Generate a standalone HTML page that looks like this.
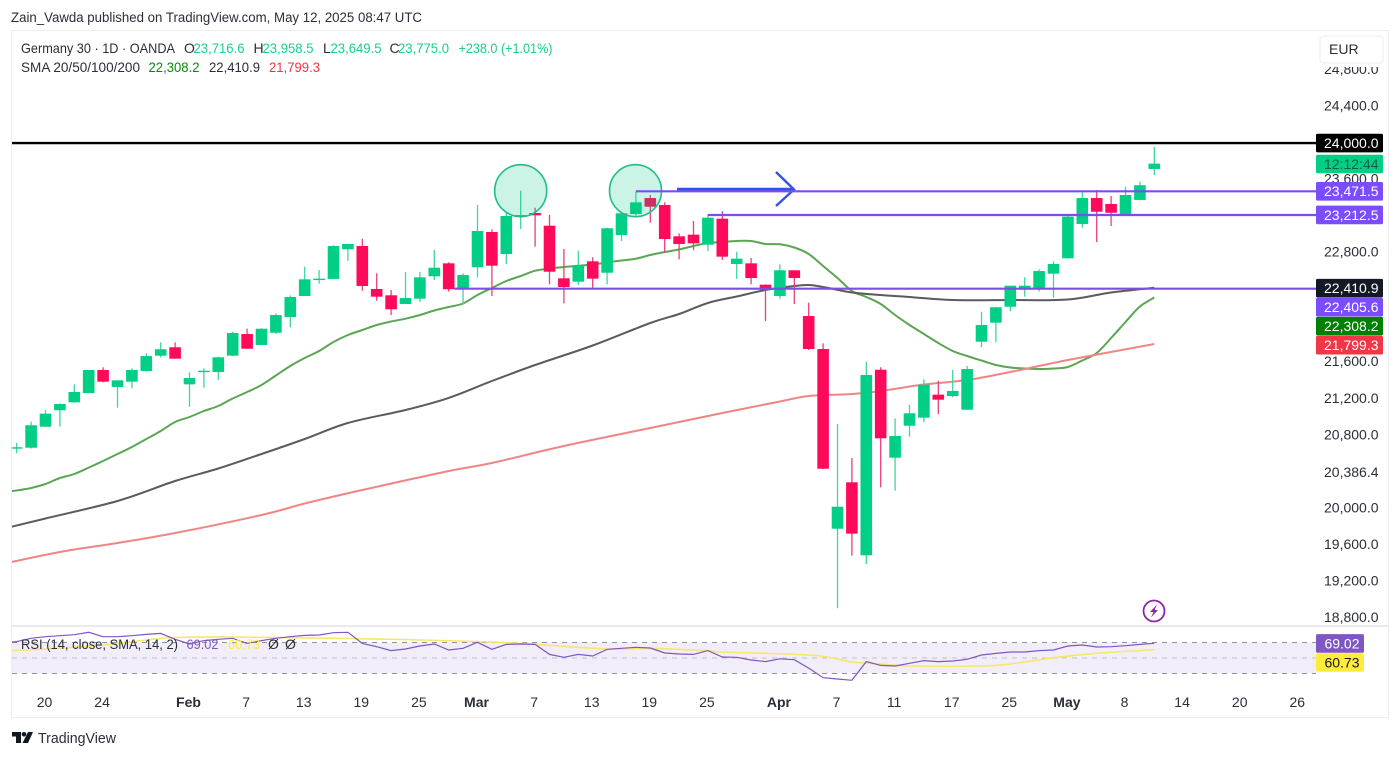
<!DOCTYPE html>
<html lang="en">
<head>
<meta charset="utf-8">
<title>Germany 30 daily chart</title>
<style>
  html, body { margin: 0; padding: 0; background: #fff; width: 1400px; height: 757px; overflow: hidden; }
  svg { display: block; font-family: "Liberation Sans", "DejaVu Sans", sans-serif; }
  text { fill: #2a2e39; }
</style>
</head>
<body>
<svg id="chart" xmlns="http://www.w3.org/2000/svg" width="1400" height="757" viewBox="0 0 1400 757">
  <defs>
    <clipPath id="main-clip"><rect x="12" y="31" width="1304" height="594"/></clipPath>
    <clipPath id="rsi-clip"><rect x="12" y="628" width="1304" height="62"/></clipPath>
  </defs>
  <rect x="0" y="0" width="1400" height="757" fill="#ffffff"/>
  <text x="11" y="22" font-size="13.5" textLength="411" lengthAdjust="spacingAndGlyphs">Zain_Vawda published on TradingView.com, May 12, 2025 08:47 UTC</text>
  <rect x="11.5" y="30.5" width="1377" height="687" fill="#ffffff" stroke="#eceef2" stroke-width="1"/>
  <line x1="12" y1="626" x2="1388" y2="626" stroke="#e9eaed" stroke-width="2"/>

  <g id="main-under" clip-path="url(#main-clip)"></g>
  <g id="main-candles" clip-path="url(#main-clip)"></g>

  <g clip-path="url(#main-clip)">
    <circle cx="520.7" cy="190.7" r="26" fill="rgba(0,200,130,0.2)" stroke="#1fbd8b" stroke-width="1.6"/>
    <circle cx="635.5" cy="190.7" r="26" fill="rgba(0,200,130,0.2)" stroke="#1fbd8b" stroke-width="1.6"/>
    <line x1="677" y1="189.5" x2="793" y2="189.5" stroke="#3451e8" stroke-width="3.4"/>
    <polyline points="776,172 794,189.5 776,206" fill="none" stroke="#3451e8" stroke-width="2.4"/>
  </g>
  <g id="levels" clip-path="url(#main-clip)"></g>

  <g>
    <circle cx="1154" cy="611" r="10.5" fill="#ffffff" stroke="#8e24aa" stroke-width="1.8"/>
    <polygon points="1157,604.5 1150,612 1153.5,612 1151,617.5 1158,610 1154.5,610" fill="#8e24aa"/>
  </g>

  <g id="rsi-pane"></g>

  <text x="21" y="649" font-size="14" textLength="157" lengthAdjust="spacingAndGlyphs">RSI (14, close, SMA, 14, 2)</text>
  <text x="186.5" y="649" font-size="14" textLength="32" lengthAdjust="spacingAndGlyphs" style="fill:#7e57c2">69.02</text>
  <text x="228" y="649" font-size="14" textLength="32" lengthAdjust="spacingAndGlyphs" style="fill:#ffeb3b">60.73</text>
  <text x="268" y="649" font-size="14">Ø</text>
  <text x="285" y="649" font-size="14">Ø</text>

  <g font-size="14">
    <text x="21" y="53" textLength="154" lengthAdjust="spacingAndGlyphs">Germany 30 · 1D · OANDA</text>
    <text x="184" y="53">O</text>
    <text x="193.5" y="53" textLength="51" lengthAdjust="spacingAndGlyphs" style="fill:#19cf90">23,716.6</text>
    <text x="253.5" y="53">H</text>
    <text x="262.5" y="53" textLength="51" lengthAdjust="spacingAndGlyphs" style="fill:#19cf90">23,958.5</text>
    <text x="323" y="53">L</text>
    <text x="330.5" y="53" textLength="51" lengthAdjust="spacingAndGlyphs" style="fill:#19cf90">23,649.5</text>
    <text x="389.5" y="53">C</text>
    <text x="398" y="53" textLength="51" lengthAdjust="spacingAndGlyphs" style="fill:#19cf90">23,775.0</text>
    <text x="458.5" y="53" textLength="94" lengthAdjust="spacingAndGlyphs" style="fill:#19cf90">+238.0 (+1.01%)</text>
    <text x="21" y="72" textLength="119" lengthAdjust="spacingAndGlyphs">SMA 20/50/100/200</text>
    <text x="148.5" y="72" textLength="51" lengthAdjust="spacingAndGlyphs" style="fill:#0a8a0a">22,308.2</text>
    <text x="209" y="72" textLength="51" lengthAdjust="spacingAndGlyphs">22,410.9</text>
    <text x="269" y="72" textLength="51" lengthAdjust="spacingAndGlyphs" style="fill:#f23645">21,799.3</text>
  </g>

  <g id="price-axis"></g>
  <g id="time-axis"></g>

  <rect x="1316" y="33" width="71" height="34" fill="#ffffff"/>
  <g>
    <rect x="1320" y="36" width="63" height="27" rx="3" fill="#ffffff" stroke="#eceef2"/>
    <text x="1329" y="54" font-size="14">EUR</text>
  </g>

  <g>
    <path d="M12 732H21V743H16V736.5H12Z M28 732H33L28 743H22.5Z" fill="#131722"/>
    <circle cx="24" cy="734.3" r="2.3" fill="#131722"/>
    <text x="38" y="743" font-size="14.5" textLength="78" lengthAdjust="spacingAndGlyphs">TradingView</text>
  </g>
</svg>

<script>
// Candle values, one entry per daily bar
const opens = [
  20664,20664,20894,21074,21161,21263,21515,21329,21387,21504,
  21672,21764,21358,21496,21493,21672,21909,21789,21923,22095,
  22325,22508,22512,22837,22873,22402,22333,22238,22296,22541,
  22683,22410,22640,23026,22785,23194,23234,23095,22519,22482,
  22705,22580,22993,23223,23398,23322,22979,22997,22887,23172,
  22676,22683,22449,22325,22607,22106,21745,19777,20285,19486,
  21518,20555,20905,20993,21245,21230,21080,21825,22033,22208,
  22394,22405,22570,22738,23114,23398,23333,23209,23377,23716.6
];
const highs = [
  20719,20949,21077,21150,21358,21515,21545,21402,21534,21698,
  21818,21818,21490,21534,21661,21934,21967,21972,22136,22333,
  22646,22610,22881,22895,22950,22574,22391,22588,22588,22829,
  22694,22574,23322,23056,23248,23478,23292,23212,22840,22821,
  22749,23073,23231,23467,23431,23351,23012,23147,23220,23253,
  22810,22741,22453,22672,22607,22252,21807,20924,20551,21606,
  21545,20986,21135,21413,21398,21515,21559,22153,22208,22438,
  22530,22618,22705,23212,23467,23486,23420,23522,23577,23958.5
];
const lows = [
  20603,20655,20891,20894,21157,21260,21380,21102,21315,21496,
  21654,21639,21113,21321,21406,21668,21748,21789,21909,21983,
  22325,22460,22512,22709,22383,22274,22117,22238,22260,22501,
  22373,22238,22530,22325,22676,23059,22865,22453,22245,22446,
  22410,22453,22928,23187,23128,22799,22727,22826,22815,22720,
  22512,22453,22052,22296,22238,21734,20431,18906,19482,19391,
  20231,20193,20785,20946,21033,21216,21080,21764,21818,22158,
  22318,22373,22307,22734,23073,22917,23092,23205,23373,23649.5
];
const closes = [
  20669,20910,21037,21143,21274,21515,21387,21402,21515,21668,
  21742,21639,21427,21507,21654,21920,21748,21967,22117,22314,
  22508,22515,22873,22895,22435,22318,22180,22303,22530,22635,
  22399,22555,23037,22657,23201,23212,23209,22591,22424,22661,
  22515,23067,23231,23351,23303,22949,22895,22902,23183,22756,
  22734,22522,22391,22607,22522,21745,20434,20018,19723,21460,
  20767,20792,21041,21354,21190,21285,21526,22008,22202,22438,
  22438,22599,22676,23194,23398,23248,23237,23431,23538,23775
];

// Moving averages: SMA 20 has a value for each bar (first one is the bar before the chart's first bar)
const sma20Values = [
  20179,20196,20223,20267,20332,20376,20446,20519,20595,20672,20759,
  20847,20946,21000,21066,21121,21203,21274,21351,21455,21559,
  21646,21723,21822,21898,21953,22008,22046,22077,22117,22167,
  22205,22243,22336,22413,22490,22544,22602,22626,22643,22657,
  22670,22692,22714,22734,22774,22807,22835,22873,22906,22917,
  22928,22928,22895,22891,22856,22785,22654,22522,22380,22314,
  22238,22117,22008,21909,21811,21723,21668,21619,21570,21542,
  21531,21526,21531,21548,21619,21701,21865,22041,22210,22309
];
// SMA 50 / SMA 100 readings at sampled bars
const sma50Bars = [-1,2,7,11,14,17,20,23,27,30,33,36,40,44,46,48,50,52,54,55,56,58,60,62,65,69,73,76,79];
const sma50Values = [19774,19889,20081,20300,20436,20595,20759,20935,21077,21209,21395,21570,21783,22030,22128,22249,22320,22391,22435,22446,22424,22364,22336,22314,22281,22281,22287,22364,22415];
const sma100Bars = [-1,3,7,11,17,20,24,30,33,38,44,49,53,55,58,60,63,66,69,73,79];
const sma100Values = [19391,19522,19621,19730,19927,20053,20201,20409,20497,20683,20880,21044,21170,21230,21252,21285,21356,21405,21493,21624,21799.3];

// Horizontal levels: price and the bar they start from
const levelPrices = [23471.5, 23212.5, 22405.6];
const levelStartBars = [43, 48, 30.4];
const resistancePrice = 24000;

// RSI: one value for each bar (first one is the bar before the chart's first bar)
const rsiValues = [
  69.5,71.1,75.4,77.5,78.8,80.1,83.1,77.5,77.5,78.8,80.5,
  81.8,74.1,68.1,72.4,74.1,75.4,68.9,72.4,75.4,77.5,
  79.2,79.7,82.7,83.1,68.9,64.6,59.5,61.6,65.5,68.1,
  60.3,62.5,70.2,61.2,67.6,68.1,67.6,54.7,50.9,54.7,
  52.6,61.2,62.5,63.8,62.9,56.5,55.2,54.7,59.5,51.3,
  50.9,47.4,45.3,49,47.8,37,24.6,22.9,21.2,45.3,
  40.5,39.7,43.1,46.6,45.3,46.1,48.3,53.9,56,57.7,
  57.7,59.5,60.3,65.5,66.8,64.2,64.6,65.9,67.6,69.02
];
const rsiSmaBars = [-1,2,6,9,11,15,23,28,33,36,41,44,48,49,55,57,58,60,62,67,69,72,75,79];
const rsiSmaValues = [59,61.6,66.8,73.2,76.5,77.1,75.2,73.2,70.6,67.7,61.6,62.5,59.4,57.7,53.9,48.7,44.8,42.3,39.7,39.7,42.3,50.4,56.1,60.73];
const rsiBandValues = [70, 50, 30];

// Axis labels
const priceTicks = [24800,24400,23600,22800,21600,21200,20800,20386.4,20000,19600,19200,18800];
const timeTickBars = [2,6,12,16,20,24,28,32,36,40,44,48,53,57,61,65,69,73,77,81,85,89];
const timeTickLabels = ['20','24','Feb','7','13','19','25','Mar','7','13','19','25','Apr','7','11','17','25','May','8','14','20','26'];
const boldTimeLabels = ['Feb','Mar','Apr','May'];

// Price tags on the axis, highest first
const tagPrices = [24000, 23471.5, 23212.5, 22410.9, 22405.6, 22308.2, 21799.3];
const tagColors = ['#000000','#7c4dff','#7c4dff','#131a26','#7c4dff','#008000','#f23645'];
const countdownText = '12:12:44';
const lastClose = 23775;

// Axis functions
function xBar(i) { return 16.7 + 14.4 * i; }
function yPrice(p) { return 70 + (24800 - p) / 10.95; }
function yRsi(v) { return 658 - (v - 50) * 0.775; }
function fmt(p) { return p.toLocaleString('en-US', { minimumFractionDigits: 1, maximumFractionDigits: 1 }); }

const NS = 'http://www.w3.org/2000/svg';
function make(tag, attrs, parent) {
  const el = document.createElementNS(NS, tag);
  for (const k in attrs) el.setAttribute(k, attrs[k]);
  parent.appendChild(el);
  return el;
}
function polyPoints(bars, values, yFn) {
  return values.map((v, k) => xBar(bars ? bars[k] : k - 1).toFixed(1) + ',' + yFn(v).toFixed(1)).join(' ');
}
// Smooth curve through the readings (Catmull-Rom converted to cubic Bezier)
function smoothPath(bars, values, yFn) {
  const pts = values.map((v, k) => [xBar(bars ? bars[k] : k - 1), yFn(v)]);
  let d = 'M' + pts[0][0].toFixed(1) + ' ' + pts[0][1].toFixed(1);
  for (let k = 0; k < pts.length - 1; k++) {
    const p0 = pts[Math.max(k - 1, 0)], p1 = pts[k], p2 = pts[k + 1], p3 = pts[Math.min(k + 2, pts.length - 1)];
    const c1x = p1[0] + (p2[0] - p0[0]) / 6, c1y = p1[1] + (p2[1] - p0[1]) / 6;
    const c2x = p2[0] - (p3[0] - p1[0]) / 6, c2y = p2[1] - (p3[1] - p1[1]) / 6;
    d += 'C' + c1x.toFixed(1) + ' ' + c1y.toFixed(1) + ' ' + c2x.toFixed(1) + ' ' + c2y.toFixed(1) + ' ' + p2[0].toFixed(1) + ' ' + p2[1].toFixed(1);
  }
  return d;
}

// Moving averages
const under = document.getElementById('main-under');
const line20 = make('path', { d: smoothPath(null, sma20Values, yPrice), fill: 'none', stroke: '#5aa653', 'stroke-width': 2, 'stroke-linejoin': 'round' }, under);


const line50 = make('path', { d: smoothPath(sma50Bars, sma50Values, yPrice), fill: 'none', stroke: '#5b5b5f', 'stroke-width': 2, 'stroke-linejoin': 'round' }, under);


const line100 = make('path', { d: smoothPath(sma100Bars, sma100Values, yPrice), fill: 'none', stroke: '#f08585', 'stroke-width': 2, 'stroke-linejoin': 'round' }, under);



// Candles
const candleGroup = document.getElementById('main-candles');
opens.forEach((o, i) => {
  const c = closes[i];
  const up = c >= o;
  const x = xBar(i);
  const wick = make('line', { x1: x, x2: x, y1: yPrice(highs[i]), y2: yPrice(lows[i]), stroke: up ? '#3fd6a3' : '#ee3f79', 'stroke-width': 1.3 }, candleGroup);
  
  
  const top = yPrice(Math.max(o, c));
  const h = Math.max(yPrice(Math.min(o, c)) - top, 1.4);
  const body = make('rect', { x: x - 5.8, y: top, width: 11.6, height: h, fill: up ? '#00cf85' : '#ff0a5a' }, candleGroup);
  
  
});

// Horizontal levels
const levelGroup = document.getElementById('levels');
const blackLine = make('line', { x1: 12, x2: 1316, y1: yPrice(resistancePrice), y2: yPrice(resistancePrice), stroke: '#000000', 'stroke-width': 2.4 }, levelGroup);


levelPrices.forEach((p, k) => {
  const l = make('line', { x1: xBar(levelStartBars[k]), x2: 1316, y1: yPrice(p), y2: yPrice(p), stroke: '#7c4dee', 'stroke-width': 2.2 }, levelGroup);
  
  
});

// RSI pane
const rsiPane = document.getElementById('rsi-pane');
const rsiBand = make('rect', { x: 12, y: yRsi(rsiBandValues[0]), width: 1304, height: yRsi(rsiBandValues[2]) - yRsi(rsiBandValues[0]), fill: 'rgba(126,87,194,0.1)' }, rsiPane);


rsiBandValues.forEach((v) => {
  const d = make('line', { x1: 12, x2: 1316, y1: yRsi(v), y2: yRsi(v), stroke: v === 50 ? '#c0bfc6' : '#8f9099', 'stroke-width': 1, 'stroke-dasharray': '5 5' }, rsiPane);
  
  
});
const rsiSmaLine = make('path', { d: smoothPath(rsiSmaBars, rsiSmaValues, yRsi), fill: 'none', stroke: '#f7e66a', 'stroke-width': 1.6, 'clip-path': 'url(#rsi-clip)' }, rsiPane);


const rsiLine = make('polyline', { points: polyPoints(null, rsiValues, yRsi), fill: 'none', stroke: '#7e57c2', 'stroke-width': 1.2, 'clip-path': 'url(#rsi-clip)' }, rsiPane);



// Price axis
const axis = document.getElementById('price-axis');
priceTicks.forEach((p) => {
  const t = make('text', { x: 1378.5, y: yPrice(p) + 4, 'font-size': 14, 'text-anchor': 'end' }, axis);
  
  
  t.textContent = fmt(p);
});
function priceTag(yMid, h, w, color, textColor, label) {
  const r = make('rect', { x: 1316, y: yMid - h / 2, width: w, height: h, rx: 1.5, fill: color }, axis);
  
  
  const t = make('text', { x: 1316 + w - 4.5, y: yMid + 4.8, 'font-size': 14, 'text-anchor': 'end' }, axis);
  t.style.fill = textColor;
  
  
  t.textContent = label;
}
// Tags that would overlap are pushed down so each stays readable
const TAG_STEP = 19;
let prevTagY = -Infinity;
tagPrices.forEach((p, k) => {
  const tagY = Math.max(yPrice(p), prevTagY + TAG_STEP);
  priceTag(tagY, 18.6, 67, tagColors[k], '#ffffff', fmt(p));
  prevTagY = tagY;
});
// Countdown tag marks the last close
priceTag(yPrice(lastClose) + 0.4, 18.4, 67, '#00cf85', '#0b5f44', countdownText);
// RSI tags
const rsiLastValue = rsiValues[rsiValues.length - 1];
const rsiSmaLastValue = rsiSmaValues[rsiSmaValues.length - 1];
const rsiTagY = yRsi(rsiLastValue) + 0.2;
priceTag(rsiTagY, 18.6, 48, '#7e57c2', '#ffffff', rsiLastValue.toFixed(2));
priceTag(Math.max(yRsi(rsiSmaLastValue), rsiTagY + TAG_STEP), 18.6, 48, '#ffeb3b', '#131722', rsiSmaLastValue.toFixed(2));

// Time axis
const timeAxis = document.getElementById('time-axis');
timeTickLabels.forEach((label, k) => {
  const t = make('text', { x: xBar(timeTickBars[k]) - 1, y: 707, 'font-size': 14, 'text-anchor': 'middle' }, timeAxis);
  if (boldTimeLabels.includes(label)) t.setAttribute('font-weight', 'bold');
  
  
  t.textContent = label;
});
</script>
</body>
</html>
